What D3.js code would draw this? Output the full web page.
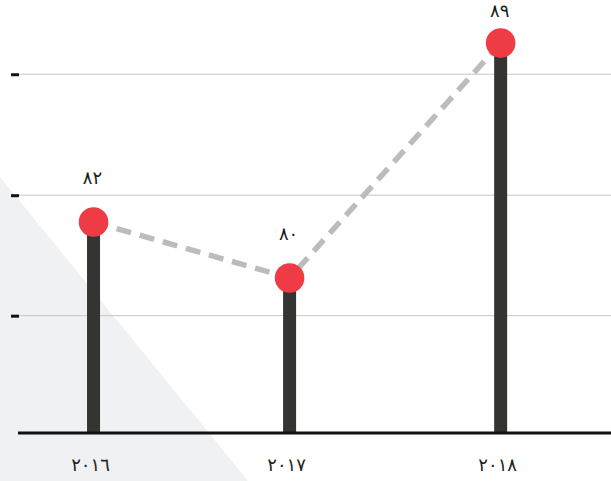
<!DOCTYPE html>
<html>
<head>
<meta charset="utf-8">
<script src="https://cdn.jsdelivr.net/npm/d3@7"></script>
<style>
  html, body { margin: 0; padding: 0; background: #fff; }
  svg { display: block; }
  text { font-family: "DejaVu Sans", sans-serif; }
</style>
</head>
<body>
<svg id="chart" width="611" height="481"></svg>
<script>
// ---- data ----
const dates = ["2016-01-01", "2017-01-01", "2018-01-30"];
const values = [82.0, 79.7, 89.35];
const yTickValues = [78.15, 83.1, 88.07];
const xDomain = ["2015-08-13", "2018-08-24"];
const yDomain = [73.33, 91.12];

const arDigits = ["٠","١","٢","٣","٤","٥","٦","٧","٨","٩"];
const toAr = n => String(n).replace(/[0-9]/g, d => arDigits[+d]);
const parse = d3.utcParse("%Y-%m-%d");

const W = 611, H = 481;
const svg = d3.select("#chart");

const x = d3.scaleUtc().domain(xDomain.map(parse)).range([18, 611]);
const y = d3.scaleLinear().domain(yDomain).range([433, 0]);

const data = dates.map((d, i) => ({ date: parse(d), value: values[i] }));

// background triangle
svg.append("path")
  .attr("d", `M0,177 L0,${H} L248,${H} Z`)
  .attr("fill", "#f0f1f3");

// gridlines
svg.append("g").selectAll("line").data(yTickValues).join("line")
  .attr("x1", 19).attr("x2", W)
  .attr("y1", d => y(d)).attr("y2", d => y(d))
  .attr("stroke", "#c6c6c6").attr("stroke-width", 1);

// left ticks
const yAxis = svg.append("g").attr("transform", "translate(19,0)")
  .call(d3.axisLeft(y).tickValues(yTickValues).tickSize(8).tickFormat(""));
yAxis.select(".domain").remove();
yAxis.selectAll(".tick line").attr("stroke", "#111").attr("stroke-width", 3);

// bars
svg.append("g").selectAll("rect").data(data).join("rect")
  .attr("x", d => x(d.date) - 6.5)
  .attr("width", 13)
  .attr("y", d => y(d.value))
  .attr("height", d => y.range()[0] - y(d.value))
  .attr("fill", "#343532");

// baseline
svg.append("line")
  .attr("x1", 18).attr("x2", W)
  .attr("y1", y.range()[0]).attr("y2", y.range()[0])
  .attr("stroke", "#111").attr("stroke-width", 3);

// dashed connector
svg.append("path")
  .datum(data)
  .attr("d", d3.line().x(d => x(d.date)).y(d => y(d.value)))
  .attr("fill", "none")
  .attr("stroke", "#bcbcbc")
  .attr("stroke-width", 5.5)
  .attr("stroke-dasharray", "15,9");

// dots
svg.append("g").selectAll("circle").data(data).join("circle")
  .attr("cx", d => x(d.date))
  .attr("cy", d => y(d.value))
  .attr("r", 14.8)
  .attr("fill", "#ef3b45");

// value labels
svg.append("g").selectAll("text").data(data).join("text")
  .attr("x", d => x(d.date) - 1)
  .attr("y", d => Math.max(y(d.value) - 38, 17))
  .attr("text-anchor", "middle")
  .attr("font-size", 18)
  .attr("fill", "#1a1a1a")
  .text(d => toAr(Math.round(d.value)));

// x labels
svg.append("g").selectAll("text").data(data).join("text")
  .attr("x", d => x(d.date) - 3)
  .attr("y", 471)
  .attr("text-anchor", "middle")
  .attr("font-size", 18)
  .attr("fill", "#222")
  .text(d => toAr(d.date.getUTCFullYear()));
</script>
</body>
</html>
